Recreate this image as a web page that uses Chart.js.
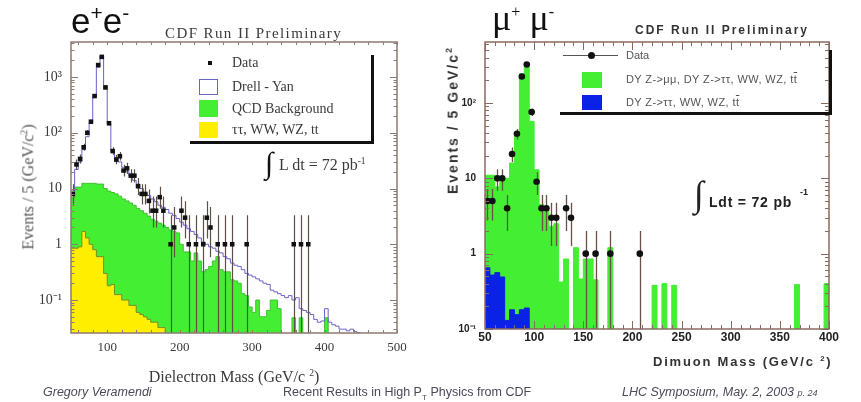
<!DOCTYPE html>
<html><head><meta charset="utf-8">
<script src="https://cdn.jsdelivr.net/npm/chart.js@4.4.1/dist/chart.umd.min.js"></script>
<style>
body{margin:0;background:#fff;}
#page{position:relative;width:861px;height:402px;overflow:hidden;background:#fff;}
canvas{position:absolute;top:0;}
.t{position:absolute;white-space:nowrap;line-height:1;}
.serif{font-family:"Liberation Serif","DejaVu Serif",serif;color:#3a3a3a;}
.sans{font-family:"Liberation Sans",Arial,sans-serif;}
.box{position:absolute;}
</style></head><body><div id="page">
<canvas id="ee" width="430" height="402" style="left:0"></canvas>
<canvas id="mm" width="431" height="402" style="left:430px"></canvas>

<!-- left panel texts -->
<div class="t sans" style="left:71px;top:2px;font-size:35px;color:#111">e<sup style="font-size:60%">+</sup>e<sup style="font-size:60%">-</sup></div>
<div class="t serif" style="left:165px;top:26px;font-size:15px;letter-spacing:1.4px">CDF Run II Preliminary</div>
<div class="t serif" style="left:28px;top:187px;font-size:16px;color:#555;transform:translate(-50%,-50%) rotate(-90deg)">Events / 5 (GeV/c<sup style="font-size:60%">2</sup>)</div>
<div class="t serif" style="left:234px;top:368px;font-size:16px;transform:translateX(-50%)">Dielectron Mass (GeV/c <sup style="font-size:60%">2</sup>)</div>
<div class="box" style="left:371px;top:55px;width:3px;height:89px;background:#111"></div>
<div class="box" style="left:190px;top:141px;width:184px;height:3px;background:#111"></div>
<div class="box" style="left:208px;top:61px;width:4px;height:4px;background:#111"></div>
<div class="t serif" style="left:232px;top:56px;font-size:14px">Data</div>
<div class="box" style="left:199px;top:79px;width:17px;height:14px;border:1px solid #6b63c8"></div>
<div class="t serif" style="left:232px;top:80px;font-size:14px">Drell - Yan</div>
<div class="box" style="left:199px;top:100px;width:19px;height:17px;background:#44ee33"></div>
<div class="t serif" style="left:232px;top:102px;font-size:14px">QCD Background</div>
<div class="box" style="left:199px;top:122px;width:19px;height:16px;background:#ffee00"></div>
<div class="t serif" style="left:232px;top:123px;font-size:14px">ττ, WW, WZ, tt</div>
<div class="t serif" style="left:265px;top:148px;font-size:30px;color:#111">∫</div>
<div class="t serif" style="left:279px;top:156px;font-size:16px">L dt = 72 pb<sup style="font-size:60%">-1</sup></div>

<!-- right panel texts -->
<div class="t serif" style="left:492px;top:0px;font-size:36px;color:#111">μ<sup style="font-size:45%">+</sup> μ<sup style="font-size:45%">-</sup></div>
<div class="t sans" style="left:635px;top:24px;font-size:12px;font-weight:bold;letter-spacing:2px;color:#333">CDF Run II Preliminary</div>
<div class="t sans" style="left:452px;top:120px;font-size:14px;font-weight:bold;letter-spacing:2px;color:#333;transform:translate(-50%,-50%) rotate(-90deg)">Events / 5 GeV/c<sup style="font-size:65%">2</sup></div>
<div class="t sans" style="left:653px;top:355px;font-size:13px;font-weight:bold;letter-spacing:1.8px;color:#333">Dimuon Mass (GeV/c <sup style="font-size:60%">2</sup>)</div>
<div class="box" style="left:829px;top:50px;width:3px;height:65px;background:#111"></div>
<div class="box" style="left:560px;top:112px;width:272px;height:3px;background:#111"></div>
<div class="box" style="left:563px;top:55px;width:55px;height:1px;background:#555"></div>
<div class="box" style="left:588px;top:52px;width:7px;height:7px;border-radius:50%;background:#111"></div>
<div class="t sans" style="left:626px;top:50px;font-size:11px;color:#555">Data</div>
<div class="box" style="left:582px;top:72px;width:20px;height:16px;background:#44ee33"></div>
<div class="t sans" style="left:626px;top:74px;font-size:11px;letter-spacing:0.4px;color:#555">DY Z-&gt;μμ, DY Z-&gt;ττ, WW, WZ, t<span style="text-decoration:overline">t</span></div>
<div class="box" style="left:582px;top:95px;width:20px;height:15px;background:#0a22e6"></div>
<div class="t sans" style="left:626px;top:97px;font-size:11px;letter-spacing:0.4px;color:#555">DY Z-&gt;ττ, WW, WZ, t<span style="text-decoration:overline">t</span></div>
<div class="t serif" style="left:694px;top:176px;font-size:36px;color:#222">∫</div>
<div class="t sans" style="left:709px;top:195px;font-size:14px;font-weight:bold;letter-spacing:0.8px;color:#222">Ldt = 72 pb</div>
<div class="t sans" style="left:800px;top:188px;font-size:9px;font-weight:bold;color:#222">-1</div>

<!-- footer -->
<div class="t sans" style="left:43px;top:386px;font-size:12.5px;font-style:italic;color:#4a4a5a">Gregory Veramendi</div>
<div class="t sans" style="left:283px;top:386px;font-size:12.5px;color:#4a4a5a">Recent Results in High P<sub style="font-size:65%">T</sub> Physics from CDF</div>
<div class="t sans" style="left:622px;top:386px;font-size:12.5px;font-style:italic;color:#4a4a5a">LHC Symposium, May. 2, 2003 <span style="font-size:9px">p. 24</span></div>
</div>
<script>
// ---------------- data: e+e- panel (5 GeV bins starting at 50 GeV) ----------------
const eeBinStart = 50, eeBinWidth = 5;
const eeData = [8,27,34,55,100,158,456,1640,2300,650,
  148,47,33,38,21,23,17,17,11,8,
  8,6,4,4,7,4,0,1,2,0,
  4,3,1,0,1,0,1,3,2,0,
  1,0,1,0,1,0,0,0,1,0,
  0,0,0,0,0,0,0,0,0,0,
  0,1,0,1,0,1,0,0,0,0,
  0,0,0,0,0,0,0,0,0,0];
const eeDrellYan = [9,22,30,50,85,150,430,1500,2400,700,
  145,48,36,30,24,20,17,14,12,10,
  8.5,7.5,6.5,5.8,5.0,4.6,4.2,3.6,3.3,2.9,
  2.5,2.2,1.9,1.7,1.5,1.3,1.1,1.0,0.9,0.85,
  0.75,0.7,0.6,0.55,0.46,0.42,0.4,0.35,0.3,0.28,
  0.26,0.24,0.22,0.2,0.19,0.15,0.14,0.13,0.12,0.11,
  0.12,0.1,0.11,0.07,0.065,0.06,0.055,0.045,0.04,0.042,
  0.07,0.04,0.036,0.034,0.03,0.03,0.028,0.03,0.027,0.026];
const eeQCD = [6.8,10.6,10.6,12.4,12.4,12.4,12.4,12,12,10,
  9,8.5,8,7.3,6.5,6,5.5,5,4.4,4,
  3.6,3.2,2.8,2.6,2.4,2.2,2.0,1.8,1.7,1.6,
  1.0,0.73,0.73,0.5,0.7,0.5,0.32,0.35,0.4,0.5,
  0.6,0.35,0.32,0.32,0.23,0.22,0.2,0.13,0.12,0.075,
  0.06,0.1,0.05,0.05,0.065,0.1,0.1,0.07,0,0,
  0,0.048,0,0.048,0,0,0,0,0,0,
  0.048,0,0,0,0,0,0,0,0,0];
const eeOther = [0.85,0.85,0.9,1.7,1.3,1.0,0.8,0.6,0.6,0.3,
  0.18,0.19,0.125,0.125,0.1,0.1,0.08,0.08,0.06,0.055,
  0.05,0.045,0.04,0.04,0.032,0.032,0,0,0,0,
  0,0,0,0,0,0,0,0,0,0,
  0,0,0,0,0,0,0,0,0,0,
  0,0,0,0,0,0,0,0,0,0,
  0,0,0,0,0,0,0,0,0,0,
  0,0,0,0,0,0,0,0,0,0];
const eeXTicks = [100,200,300,400,500];
const eeXLabels = ['100','200','300','400','500'];
const eeYTicks = [0.1,1,10,100,1000];
const eeYLabels = ['10⁻¹','1','10','10²','10³'];

// ---------------- data: mu+mu- panel (5 GeV bins starting at 50 GeV) ----------------
const mmBinStart = 50, mmBinWidth = 5;
const mmData = [5,5,10,10,4,21,39,225,325,76,
  9,4,4,3,3,0,4,3,0,0,
  1,0,1,0,0,1,0,0,0,0,
  0,1,0,0,0,0,0,0,0,0,
  0,0,0,0,0,0,0,0,0,0,
  0,0,0,0,0,0,0,0,0,0,
  0,0,0,0,0,0,0,0,0,0];
const mmDYAll = [11,11,7.7,10,10,16,36,244,297,57,
  13,4.5,3.8,2.3,2.5,0.42,0.85,0,1.2,0.46,
  0.85,0.85,0.45,0,0,1.2,0,0,0,0,
  0,0,0,0,0.38,0,0.4,0,0.38,0,
  0,0,0,0,0,0,0,0,0,0,
  0,0,0,0,0,0,0,0,0,0,
  0,0,0,0.39,0,0,0,0,0,0.4];
const mmTauEtc = [0.65,0.52,0.56,0.49,0.13,0.18,0.155,0.18,0.19,0,
  0,0,0,0,0,0,0,0,0,0,
  0,0,0,0,0,0,0,0,0,0,
  0,0,0,0,0,0,0,0,0,0,
  0,0,0,0,0,0,0,0,0,0,
  0,0,0,0,0,0,0,0,0,0,
  0,0,0,0,0,0,0,0,0,0];
const mmXTicks = [50,100,150,200,250,300,350,400];
const mmXLabels = ['50','100','150','200','250','300','350','400'];
const mmYTicks = [0.1,1,10,100];
const mmYLabels = ['10⁻¹','1','10','10²'];

// ---------------- helpers ----------------
function binEdges(start, width, n){ const e=[]; for(let i=0;i<=n;i++) e.push(start+i*width); return e; }
function histPoints(edges, vals, floor){
  const p = vals.map((v,i)=>({x:edges[i], y: v>0 ? v : floor}));
  p.push({x:edges[vals.length], y:p[p.length-1].y});
  return p;
}
function dataPoints(edges, counts){
  return counts.map((n,i)=>({x:(edges[i]+edges[i+1])/2, y: n>0 ? n : null}));
}

const frameTicks = {
  id:'frameTicks',
  afterDatasetsDraw(chart, args, o){
    const {ctx, chartArea:a} = chart; const x = chart.scales.x, y = chart.scales.y;
    ctx.save();
    ctx.strokeStyle = o.color; ctx.lineWidth = 1;
    ctx.beginPath();
    const e0 = Math.floor(Math.log10(y.min)), e1 = Math.ceil(Math.log10(y.max));
    for(let e=e0;e<=e1;e++){
      for(let k=1;k<10;k++){
        const v = k*Math.pow(10,e);
        if(v<y.min || v>y.max) continue;
        const py = Math.round(y.getPixelForValue(v))+0.5;
        const len = k===1 ? o.yMajor : o.yMinor;
        ctx.moveTo(a.left,py); ctx.lineTo(a.left+len,py);
        ctx.moveTo(a.right,py); ctx.lineTo(a.right-len,py);
      }
    }
    for(let v=o.xFirst; v<=x.max+1e-6; v+=o.xMinorStep){
      const px = Math.round(x.getPixelForValue(v))+0.5;
      const major = Math.abs((v - o.xFirst) % o.xMajorStep) < 1e-6;
      const len = major ? o.xMajor : o.xMinor;
      ctx.moveTo(px,a.bottom); ctx.lineTo(px,a.bottom-len);
      ctx.moveTo(px,a.top); ctx.lineTo(px,a.top+len);
    }
    ctx.stroke();
    ctx.lineWidth = o.width;
    ctx.strokeRect(a.left, a.top, a.right-a.left, a.bottom-a.top);
    ctx.restore();
  }
};

const errorBars = {
  id:'errorBars',
  beforeDatasetDraw(chart, args){
    const ds = chart.data.datasets[args.index];
    if(!ds.errorBars) return;
    const {ctx, chartArea:a} = chart; const x = chart.scales.x, y = chart.scales.y;
    ctx.save();
    ctx.beginPath(); ctx.rect(a.left,a.top,a.right-a.left,a.bottom-a.top); ctx.clip();
    ctx.strokeStyle = ds.errorColor; ctx.lineWidth = ds.errorWidth;
    ds.data.forEach(p=>{
      if(!p || p.y==null) return;
      const n = p.y, s = Math.sqrt(n);
      const lo = n - s;
      const hi = ds.errorUpper==='gehrels' ? n + Math.sqrt(n+0.75) + 1 : n + s;
      const px = Math.round(x.getPixelForValue(p.x))+0.5;
      const pyLo = lo > y.min ? y.getPixelForValue(lo) : a.bottom;
      const pyHi = y.getPixelForValue(hi);
      const py = y.getPixelForValue(n);
      ctx.beginPath();
      ctx.moveTo(px,pyLo); ctx.lineTo(px,pyHi);
      ctx.moveTo(x.getPixelForValue(p.x-ds.halfBin),py); ctx.lineTo(x.getPixelForValue(p.x+ds.halfBin),py);
      ctx.stroke();
    });
    ctx.restore();
  }
};

Chart.defaults.animation = false;
Chart.defaults.events = [];

function histDs(points, fillColor, borderColor, order, fill){
  return {type:'line', data:points, stepped:true, fill: fill ? 'start' : false,
    backgroundColor:fillColor, borderColor:borderColor, borderWidth:1,
    pointRadius:0, clip:0, order:order, tension:0};
}

// ---------------- e+e- chart ----------------
(function(){
  const edges = binEdges(eeBinStart, eeBinWidth, eeData.length);
  const floor = 1e-4;
  new Chart(document.getElementById('ee'), {
    type:'line',
    data:{datasets:[
      {type:'scatter', data:dataPoints(edges, eeData), showLine:false, pointStyle:'rect',
       pointRadius:3.2, pointBackgroundColor:'#111', pointBorderColor:'#111', pointBorderWidth:0,
       errorBars:true, errorColor:'#5e4e46', errorWidth:1.2, errorUpper:'gehrels', halfBin:eeBinWidth/2, order:0, clip:0},
      histDs(histPoints(edges, eeDrellYan, floor), 'rgba(0,0,0,0)', '#6b63c8', 1, false),
      histDs(histPoints(edges, eeOther, floor), '#ffee00', '#7a8a2a', 2, true),
      histDs(histPoints(edges, eeQCD, floor), '#44ee33', '#3fc030', 3, true)
    ]},
    options:{
      responsive:false, maintainAspectRatio:false,
      layout:{padding:{left:0, right:33, top:42, bottom:39}},
      plugins:{legend:{display:false}, tooltip:{enabled:false},
        frameTicks:{color:'#8d7b72', width:1.5, yMajor:7, yMinor:3.5, xFirst:60, xMinorStep:20, xMajorStep:100, xMajor:3, xMinor:3}},
      scales:{
        x:{type:'linear', min:50, max:500, grid:{display:false, drawTicks:false}, border:{display:false},
          afterBuildTicks:s=>{ s.ticks = eeXTicks.map(v=>({value:v})); },
          afterFit:s=>{ s.height = 30; },
          ticks:{autoSkip:false, maxRotation:0, padding:7, color:'#3a3a3a',
            font:{family:'"Liberation Serif", serif', size:13},
            callback:(v)=>eeXLabels[eeXTicks.indexOf(v)] ?? ''}},
        y:{type:'logarithmic', min:0.0256, max:4250, grid:{display:false, drawTicks:false}, border:{display:false},
          afterBuildTicks:s=>{ s.ticks = eeYTicks.map(v=>({value:v})); },
          afterFit:s=>{ s.width = 71; },
          ticks:{autoSkip:false, padding:9, color:'#3a3a3a',
            font:{family:'"Liberation Serif", serif', size:14},
            callback:(v)=>eeYLabels[eeYTicks.indexOf(v)] ?? ''}}
      }
    },
    plugins:[frameTicks, errorBars]
  });
})();

// ---------------- mu+mu- chart ----------------
(function(){
  const edges = binEdges(mmBinStart, mmBinWidth, mmData.length);
  const floor = 1e-3;
  new Chart(document.getElementById('mm'), {
    type:'line',
    data:{datasets:[
      {type:'scatter', data:dataPoints(edges, mmData), showLine:false, pointStyle:'circle',
       pointRadius:3.3, pointBackgroundColor:'#111', pointBorderColor:'#111', pointBorderWidth:0,
       errorBars:true, errorColor:'#6b5048', errorWidth:1.3, errorUpper:'sqrt', halfBin:mmBinWidth/2, order:0, clip:0},
      histDs(histPoints(edges, mmTauEtc, floor), '#0a22e6', '#0a22e6', 1, true),
      histDs(histPoints(edges, mmDYAll, floor), '#44ee33', '#44ee33', 2, true)
    ]},
    options:{
      responsive:false, maintainAspectRatio:false,
      layout:{padding:{left:0, right:32, top:42, bottom:53}},
      plugins:{legend:{display:false}, tooltip:{enabled:false},
        frameTicks:{color:'#8a6a60', width:1.5, yMajor:8, yMinor:4, xFirst:50, xMinorStep:10, xMajorStep:50, xMajor:8, xMinor:4}},
      scales:{
        x:{type:'linear', min:50, max:400, grid:{display:false, drawTicks:false}, border:{display:false},
          afterBuildTicks:s=>{ s.ticks = mmXTicks.map(v=>({value:v})); },
          afterFit:s=>{ s.height = 20; },
          ticks:{autoSkip:false, maxRotation:0, padding:1, color:'#222',
            font:{family:'"Liberation Sans", Arial, sans-serif', size:12, weight:'bold'},
            callback:(v)=>mmXLabels[mmXTicks.indexOf(v)] ?? ''}},
        y:{type:'logarithmic', min:0.1, max:645, grid:{display:false, drawTicks:false}, border:{display:false},
          afterBuildTicks:s=>{ s.ticks = mmYTicks.map(v=>({value:v})); },
          afterFit:s=>{ s.width = 55; },
          ticks:{autoSkip:false, padding:9, color:'#222',
            font:{family:'"Liberation Sans", Arial, sans-serif', size:10, weight:'bold'},
            callback:(v)=>mmYLabels[mmYTicks.indexOf(v)] ?? ''}}
      }
    },
    plugins:[frameTicks, errorBars]
  });
})();
</script>
</body></html>
